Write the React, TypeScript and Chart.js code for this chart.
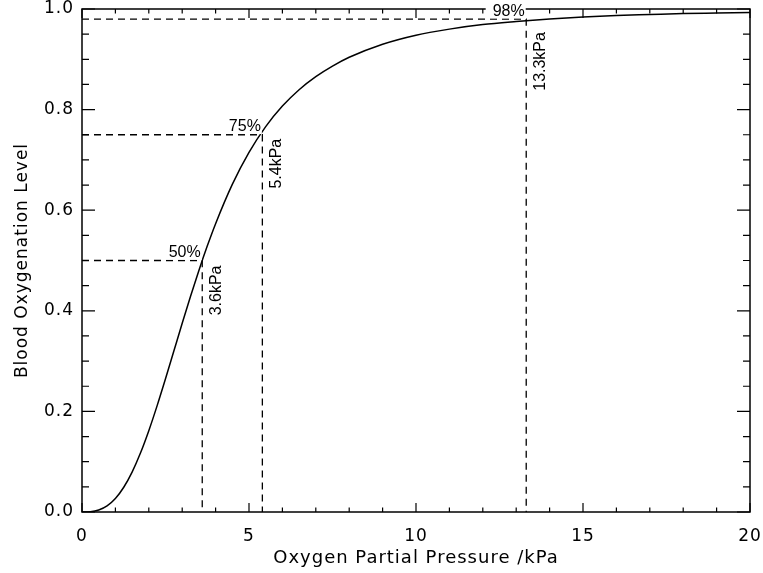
import React, { useEffect, useRef } from "react";
import { Chart, registerables } from "chart.js";

Chart.register(...registerables);

// Oxygen partial pressure (kPa) and blood oxygenation level
const pressures = [
  0, 0.25, 0.5, 0.75, 1, 1.25, 1.5, 1.75, 2, 2.25, 2.5, 2.75, 3, 3.25, 3.5,
  3.75, 4, 4.5, 5, 5.5, 6, 6.5, 7, 7.5, 8, 9, 10, 11, 12, 13, 14, 15, 16, 17,
  18, 19, 20,
];
const levels = [
  0, 0.0006, 0.004, 0.0122, 0.0269, 0.0492, 0.0793, 0.1172, 0.1617, 0.2115,
  0.2648, 0.3199, 0.3751, 0.4289, 0.4803, 0.5286, 0.5732, 0.6513, 0.715,
  0.7662, 0.807, 0.8395, 0.8655, 0.8865, 0.904, 0.93, 0.948, 0.96, 0.969,
  0.975, 0.98, 0.984, 0.987, 0.989, 0.991, 0.992, 0.993,
];

// Marked points
const markerPressures = [3.6, 5.4, 13.3];
const markerLevels = [0.5, 0.75, 0.98];
const levelLabels = ["50%", "75%", "98%"];
const pressureLabels = ["3.6kPa", "5.4kPa", "13.3kPa"];

// Axes
const xTickLabels = ["0", "5", "10", "15", "20"];
const yTickLabels = ["0.0", "0.2", "0.4", "0.6", "0.8", "1.0"];
const xTitle = "Oxygen Partial Pressure /kPa";
const yTitle = "Blood Oxygenation Level";

const AXIS_FONT = '"DejaVu Sans", Verdana, sans-serif';
const NOTE_FONT = '"Liberation Sans", Arial, Helvetica, sans-serif';

const framePlugin = {
  id: "idlFrame",
  beforeDraw(chart: any) {
    chart.ctx.letterSpacing = "1px";
  },
  afterDatasetsDraw(chart: any) {
    const { ctx, chartArea: a, scales } = chart;
    const x = scales.x;
    const y = scales.y;
    ctx.save();
    ctx.letterSpacing = "0px";
    ctx.strokeStyle = "#000";
    ctx.lineWidth = 1.2;
    ctx.setLineDash([]);
    ctx.beginPath();
    // x ticks (bottom & top), major every 5, minor every 1
    for (let i = 0; i <= 20; i++) {
      const px = x.getPixelForValue(i);
      const len = i % 5 === 0 ? 9 : 4.5;
      ctx.moveTo(px, a.bottom);
      ctx.lineTo(px, a.bottom - len);
      ctx.moveTo(px, a.top);
      ctx.lineTo(px, a.top + len);
    }
    // y ticks (left & right), major every 0.2, minor every 0.05
    for (let i = 0; i <= 20; i++) {
      const py = y.getPixelForValue(i * 0.05);
      const len = i % 4 === 0 ? 13 : 7;
      ctx.moveTo(a.left, py);
      ctx.lineTo(a.left + len, py);
      ctx.moveTo(a.right, py);
      ctx.lineTo(a.right - len, py);
    }
    ctx.stroke();
    ctx.lineWidth = 1.5;
    ctx.strokeRect(a.left, a.top, a.right - a.left, a.bottom - a.top);

    // annotations
    ctx.font = "16px " + NOTE_FONT;
    const vOffsets = [5, 4, 13];
    markerPressures.forEach((p, i) => {
      const px = x.getPixelForValue(p);
      const py = y.getPixelForValue(markerLevels[i]);
      const txt = levelLabels[i];
      const w = ctx.measureText(txt).width;
      const right = px - 1.5;
      const base = py - 3.5;
      ctx.fillStyle = "#fff";
      ctx.fillRect(right - w - 7, base - 14, w + 8, py - 0.7 - (base - 14));
      ctx.fillStyle = "#000";
      ctx.textAlign = "right";
      ctx.textBaseline = "alphabetic";
      ctx.fillText(txt, right, base);

      ctx.save();
      ctx.translate(px + 14, py + vOffsets[i]);
      ctx.rotate(-Math.PI / 2);
      ctx.textAlign = "right";
      ctx.textBaseline = "middle";
      ctx.fillText(pressureLabels[i], 0, 0);
      ctx.restore();
    });
    ctx.restore();
  },
};

export default function App() {
  const canvasRef = useRef<HTMLCanvasElement | null>(null);

  useEffect(() => {
    if (!canvasRef.current) return;
    const curve = pressures.map((p, i) => ({ x: p, y: levels[i] }));
    const guides = markerPressures.map((p, i) => ({
      data: [
        { x: 0, y: markerLevels[i] },
        { x: p, y: markerLevels[i] },
        { x: p, y: 0 },
      ],
      borderColor: "#000",
      borderWidth: 1.3,
      borderDash: [7, 5],
      pointRadius: 0,
      tension: 0,
      fill: false,
    }));

    const chart = new Chart(canvasRef.current, {
      type: "line",
      data: {
        datasets: [
          {
            data: curve,
            borderColor: "#000",
            borderWidth: 1.5,
            pointRadius: 0,
            cubicInterpolationMode: "monotone",
            fill: false,
          },
          ...guides,
        ] as any,
      },
      options: {
        animation: false,
        responsive: false,
        events: [],
        layout: { padding: { top: 9, right: 13, left: 0, bottom: 0 } },
        plugins: {
          legend: { display: false },
          tooltip: { enabled: false },
        },
        scales: {
          x: {
            type: "linear",
            min: 0,
            max: 20,
            grid: { display: false, drawTicks: false },
            border: { display: false },
            ticks: {
              stepSize: 5,
              padding: 16,
              color: "#000",
              font: { family: AXIS_FONT, size: 17, lineHeight: 1 },
              maxRotation: 0,
              callback: (_v: any, i: number) => xTickLabels[i],
            },
            title: {
              display: true,
              text: xTitle,
              color: "#000",
              font: { family: AXIS_FONT, size: 18, lineHeight: 1.2 },
              padding: { top: 0, bottom: 4 },
            },
            afterFit: (s: any) => {
              s.height = 61;
              s.paddingLeft = 0;
              s.paddingRight = 0;
            },
          },
          y: {
            type: "linear",
            min: 0,
            max: 1,
            grid: { display: false, drawTicks: false },
            border: { display: false },
            ticks: {
              stepSize: 0.2,
              padding: 8,
              color: "#000",
              font: { family: AXIS_FONT, size: 17, lineHeight: 1 },
              callback: (_v: any, i: number) => yTickLabels[i],
            },
            title: {
              display: true,
              text: yTitle,
              color: "#000",
              font: { family: AXIS_FONT, size: 17, lineHeight: 1.2 },
              padding: { top: 12, bottom: 0 },
            },
            afterFit: (s: any) => {
              s.width = 82;
              s.paddingTop = 0;
              s.paddingBottom = 0;
            },
          },
        },
      } as any,
      plugins: [framePlugin],
    });
    return () => chart.destroy();
  }, []);

  return (
    <div
      style={{
        position: "fixed",
        left: 0,
        top: 0,
        width: 763,
        height: 573,
        background: "#fff",
      }}
    >
      <canvas
        ref={canvasRef}
        width={763}
        height={573}
        style={{ display: "block", width: 763, height: 573 }}
      />
    </div>
  );
}
